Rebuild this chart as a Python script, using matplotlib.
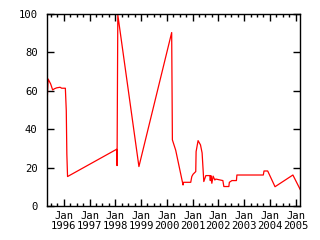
import matplotlib
matplotlib.use('Agg')
import matplotlib.pyplot as plt
import matplotlib.dates as mdates
import numpy as np

# values
dates = ['1995-05-15', '1995-05-26', '1995-07-01', '1995-07-29', '1995-08-22',
         '1995-09-24', '1995-11-11', '1995-12-04', '1996-01-25', '1996-02-07',
         '1996-02-15', '1996-02-25', '1998-01-20', '1998-01-26', '1998-02-06',
         '1998-12-02', '2000-03-10', '2000-03-20', '2000-05-06', '2000-08-18',
         '2000-08-24', '2000-12-05', '2000-12-20', '2001-01-07', '2001-02-14',
         '2001-02-19', '2001-03-19', '2001-04-22', '2001-05-15', '2001-06-08',
         '2001-07-07', '2001-09-01', '2001-09-08', '2001-09-16', '2001-09-30',
         '2001-10-18', '2001-11-11', '2001-11-25', '2002-03-05', '2002-03-19',
         '2002-05-29', '2002-06-05', '2002-07-11', '2002-09-13', '2002-09-20',
         '2003-09-29', '2003-10-09', '2003-11-30', '2004-03-13', '2004-11-21',
         '2005-03-04']
values = [57.3, 66.1, 63.5, 60.4, 61.0,
          61.5, 61.8, 61.3, 61.3, 49.6,
          27.0, 15.3, 29.5, 21.0, 99.5,
          20.5, 90.3, 34.4, 29.0, 10.9,
          12.3, 12.3, 15.3, 16.5, 17.9,
          28.3, 34.0, 31.8, 27.6, 12.7,
          15.8, 15.8, 13.2, 15.8, 11.8,
          15.5, 13.5, 14.0, 13.2, 10.1,
          10.1, 12.3, 13.2, 13.2, 16.1,
          16.1, 18.2, 18.2, 10.0, 16.1,
          8.6]
yticks = [0, 20, 40, 60, 80, 100]

x = np.array(dates, dtype='datetime64[D]').astype('O')

plt.rcParams['font.family'] = 'DejaVu Sans Mono'
plt.rcParams['font.size'] = 7.6

fig = plt.figure(figsize=(3.2, 2.4), dpi=100)
ax = fig.add_axes([0.148, 0.142, 0.79, 0.80])

ax.plot(x, values, color='#ff0000', lw=0.9)

ax.set_xlim(x[0], x[-1])
ax.set_ylim(0, 100)
ax.set_yticks(yticks)

ax.xaxis.set_major_locator(mdates.YearLocator())
ax.xaxis.set_major_formatter(mdates.DateFormatter('Jan\n%Y'))
ax.xaxis.set_minor_locator(mdates.MonthLocator(bymonth=[4, 7, 10]))

ax.tick_params(which='both', direction='in', top=True, right=True, width=1, color='black')
ax.tick_params(which='major', length=5, pad=7)
ax.tick_params(axis='x', which='major', pad=4)
ax.tick_params(which='minor', length=2.5)
for lab in ax.get_xticklabels():
    lab.set_linespacing(1.0)
for s in ax.spines.values():
    s.set_linewidth(1)

fig.savefig('out.png', dpi=100)
